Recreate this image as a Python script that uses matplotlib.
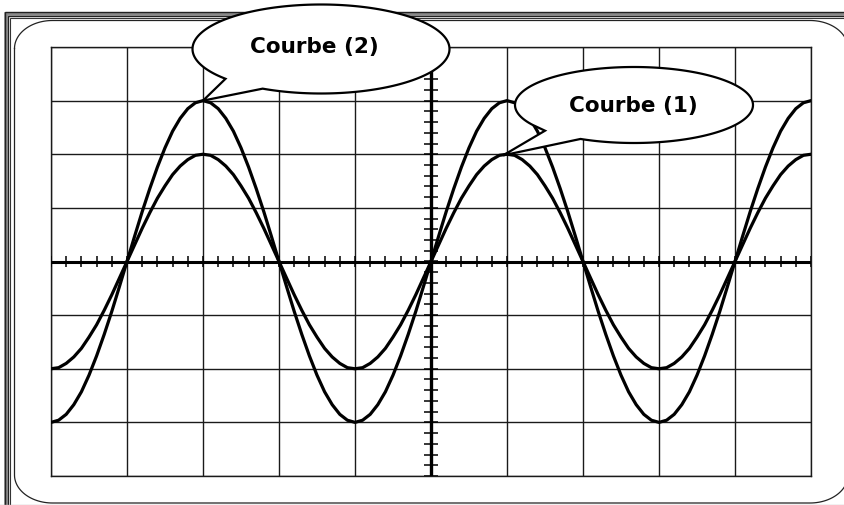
import numpy as np
import matplotlib
matplotlib.use("Agg")
import matplotlib.pyplot as plt
from matplotlib.path import Path
from matplotlib.patches import PathPatch

# ---- data (oscilloscope divisions) ----
x_div = np.round(np.arange(-5.0, 5.0001, 0.1), 2)

curve2 = [-3.00, -2.96, -2.85, -2.67, -2.43, -2.12, -1.76, -1.36, -0.93, -0.47, 0.00,
          0.47, 0.93, 1.36, 1.76, 2.12, 2.43, 2.67, 2.85, 2.96, 3.00,
          2.96, 2.85, 2.67, 2.43, 2.12, 1.76, 1.36, 0.93, 0.47, 0.00,
          -0.47, -0.93, -1.36, -1.76, -2.12, -2.43, -2.67, -2.85, -2.96, -3.00,
          -2.96, -2.85, -2.67, -2.43, -2.12, -1.76, -1.36, -0.93, -0.47, 0.00,
          0.47, 0.93, 1.36, 1.76, 2.12, 2.43, 2.67, 2.85, 2.96, 3.00,
          2.96, 2.85, 2.67, 2.43, 2.12, 1.76, 1.36, 0.93, 0.47, 0.00,
          -0.47, -0.93, -1.36, -1.76, -2.12, -2.43, -2.67, -2.85, -2.96, -3.00,
          -2.96, -2.85, -2.67, -2.43, -2.12, -1.76, -1.36, -0.93, -0.47, 0.00,
          0.47, 0.93, 1.36, 1.76, 2.12, 2.43, 2.67, 2.85, 2.96, 3.00]

curve1 = [-2.00, -1.98, -1.90, -1.78, -1.62, -1.41, -1.18, -0.91, -0.62, -0.31, 0.00,
          0.31, 0.62, 0.91, 1.18, 1.41, 1.62, 1.78, 1.90, 1.98, 2.00,
          1.98, 1.90, 1.78, 1.62, 1.41, 1.18, 0.91, 0.62, 0.31, 0.00,
          -0.31, -0.62, -0.91, -1.18, -1.41, -1.62, -1.78, -1.90, -1.98, -2.00,
          -1.98, -1.90, -1.78, -1.62, -1.41, -1.18, -0.91, -0.62, -0.31, 0.00,
          0.31, 0.62, 0.91, 1.18, 1.41, 1.62, 1.78, 1.90, 1.98, 2.00,
          1.98, 1.90, 1.78, 1.62, 1.41, 1.18, 0.91, 0.62, 0.31, 0.00,
          -0.31, -0.62, -0.91, -1.18, -1.41, -1.62, -1.78, -1.90, -1.98, -2.00,
          -1.98, -1.90, -1.78, -1.62, -1.41, -1.18, -0.91, -0.62, -0.31, 0.00,
          0.31, 0.62, 0.91, 1.18, 1.41, 1.62, 1.78, 1.90, 1.98, 2.00]

labels = ["Courbe (1)", "Courbe (2)"]
label_anchor = [(0.95, 1.98), (-3.0, 3.0)]   # where each callout points (divisions)

W, H = 845, 506
fig = plt.figure(figsize=(W / 100, H / 100), dpi=100)
fig.patch.set_facecolor("white")

# ---- background frame (pixel coordinates) ----
bg = fig.add_axes([0, 0, 1, 1], zorder=0)
bg.set_xlim(0, W)
bg.set_ylim(H, 0)
bg.axis("off")

def frame_lines(off, lw, color):
    bg.plot([off, off, W + 20], [H + 20, off + 8.5, off + 8.5], color=color, lw=lw,
            solid_capstyle="butt", solid_joinstyle="miter")

frame_lines(6.2, 2.6, "#8a8a8a")
frame_lines(4.6, 1.0, "#222222")
frame_lines(8.0, 1.0, "#222222")
frame_lines(10.5, 0.8, "#333333")
bg.plot([0, W], [505.6, 505.6], color="#bbbbbb", lw=1.0)

# rounded rectangle
L, T, R, B = 14.5, 21.5, 848.0, 504.0
rx, ry = 38.0, 28.0
def corner(cx, cy, a0, a1):
    t = np.radians(np.linspace(a0, a1, 30))
    return np.column_stack([cx + rx * np.cos(t), cy - ry * np.sin(t)])
pts = np.vstack([
    corner(L + rx, T + ry, 180, 90),
    corner(R - rx, T + ry, 90, 0),
    corner(R - rx, B - ry, 0, -90),
    corner(L + rx, B - ry, -90, -180),
    [[L, T + ry]],
])
bg.plot(pts[:, 0], pts[:, 1], color="#222222", lw=0.9)

# ---- oscilloscope screen ----
gx0, gy0, gx1, gy1 = 51, 48, 811, 477
ax = fig.add_axes([gx0 / W, 1 - gy1 / H, (gx1 - gx0) / W, (gy1 - gy0) / H], zorder=1)
ax.set_xlim(-5, 5)
ax.set_ylim(-4, 4)
ax.set_facecolor("white")
ax.set_xticks(np.arange(-5, 6, 1))
ax.set_yticks(np.arange(-4, 5, 1))
ax.tick_params(length=0, labelbottom=False, labelleft=False)
ax.grid(True, color="#1a1a1a", lw=1.0)
for s in ax.spines.values():
    s.set_color("#1a1a1a")
    s.set_linewidth(1.0)

# central graduated axes
ax.axhline(0, color="black", lw=2.2, zorder=3)
ax.axvline(0, color="black", lw=2.4, zorder=3)
minor_x = np.arange(-5, 5.001, 0.2)
minor_y = np.arange(-4, 4.001, 0.2)
ax.vlines(minor_x, -0.105, 0.105, color="black", lw=1.1, zorder=3)
ax.hlines(minor_y, -0.095, 0.095, color="black", lw=1.1, zorder=3)

ax.plot(x_div, curve2, color="black", lw=2.3, zorder=4, solid_capstyle="round")
ax.plot(x_div, curve1, color="black", lw=2.3, zorder=4, solid_capstyle="round")

# ---- callouts (overlay, pixel coordinates) ----
top = fig.add_axes([0, 0, 1, 1], zorder=5)
top.set_xlim(0, W)
top.set_ylim(H, 0)
top.axis("off")
top.patch.set_alpha(0)

def data_to_px(xd, yd):
    X, Y = ax.transData.transform((xd, yd))
    return X, H - Y

def bubble(cx, cy, a, b, th_start, th_end, extra, tip, text, tx, ty):
    t = np.radians(np.linspace(th_start, th_end, 200))
    ell = np.column_stack([cx + a * np.cos(t), cy - b * np.sin(t)])
    poly = np.vstack([ell, extra, [tip], ell[:1]])
    codes = [Path.MOVETO] + [Path.LINETO] * (len(poly) - 2) + [Path.CLOSEPOLY]
    p = PathPatch(Path(poly, codes), facecolor="white", edgecolor="black",
                  lw=1.6, joinstyle="miter")
    top.add_patch(p)
    top.text(tx, ty, text, ha="center", va="center", fontsize=15.5,
             fontweight="bold", family="DejaVu Sans", color="black")

tip2 = data_to_px(*label_anchor[1])
bubble(321, 50, 128.5, 44.5, -117, 222, np.empty((0, 2)), tip2,
       labels[1], 314, 47)

tip1 = data_to_px(*label_anchor[0])
bubble(634, 106, 119, 38, -116.7, 211.5, np.array([[545, 131.7]]), tip1,
       labels[0], 633, 106)

fig.savefig("out.png", dpi=100, facecolor="white")
